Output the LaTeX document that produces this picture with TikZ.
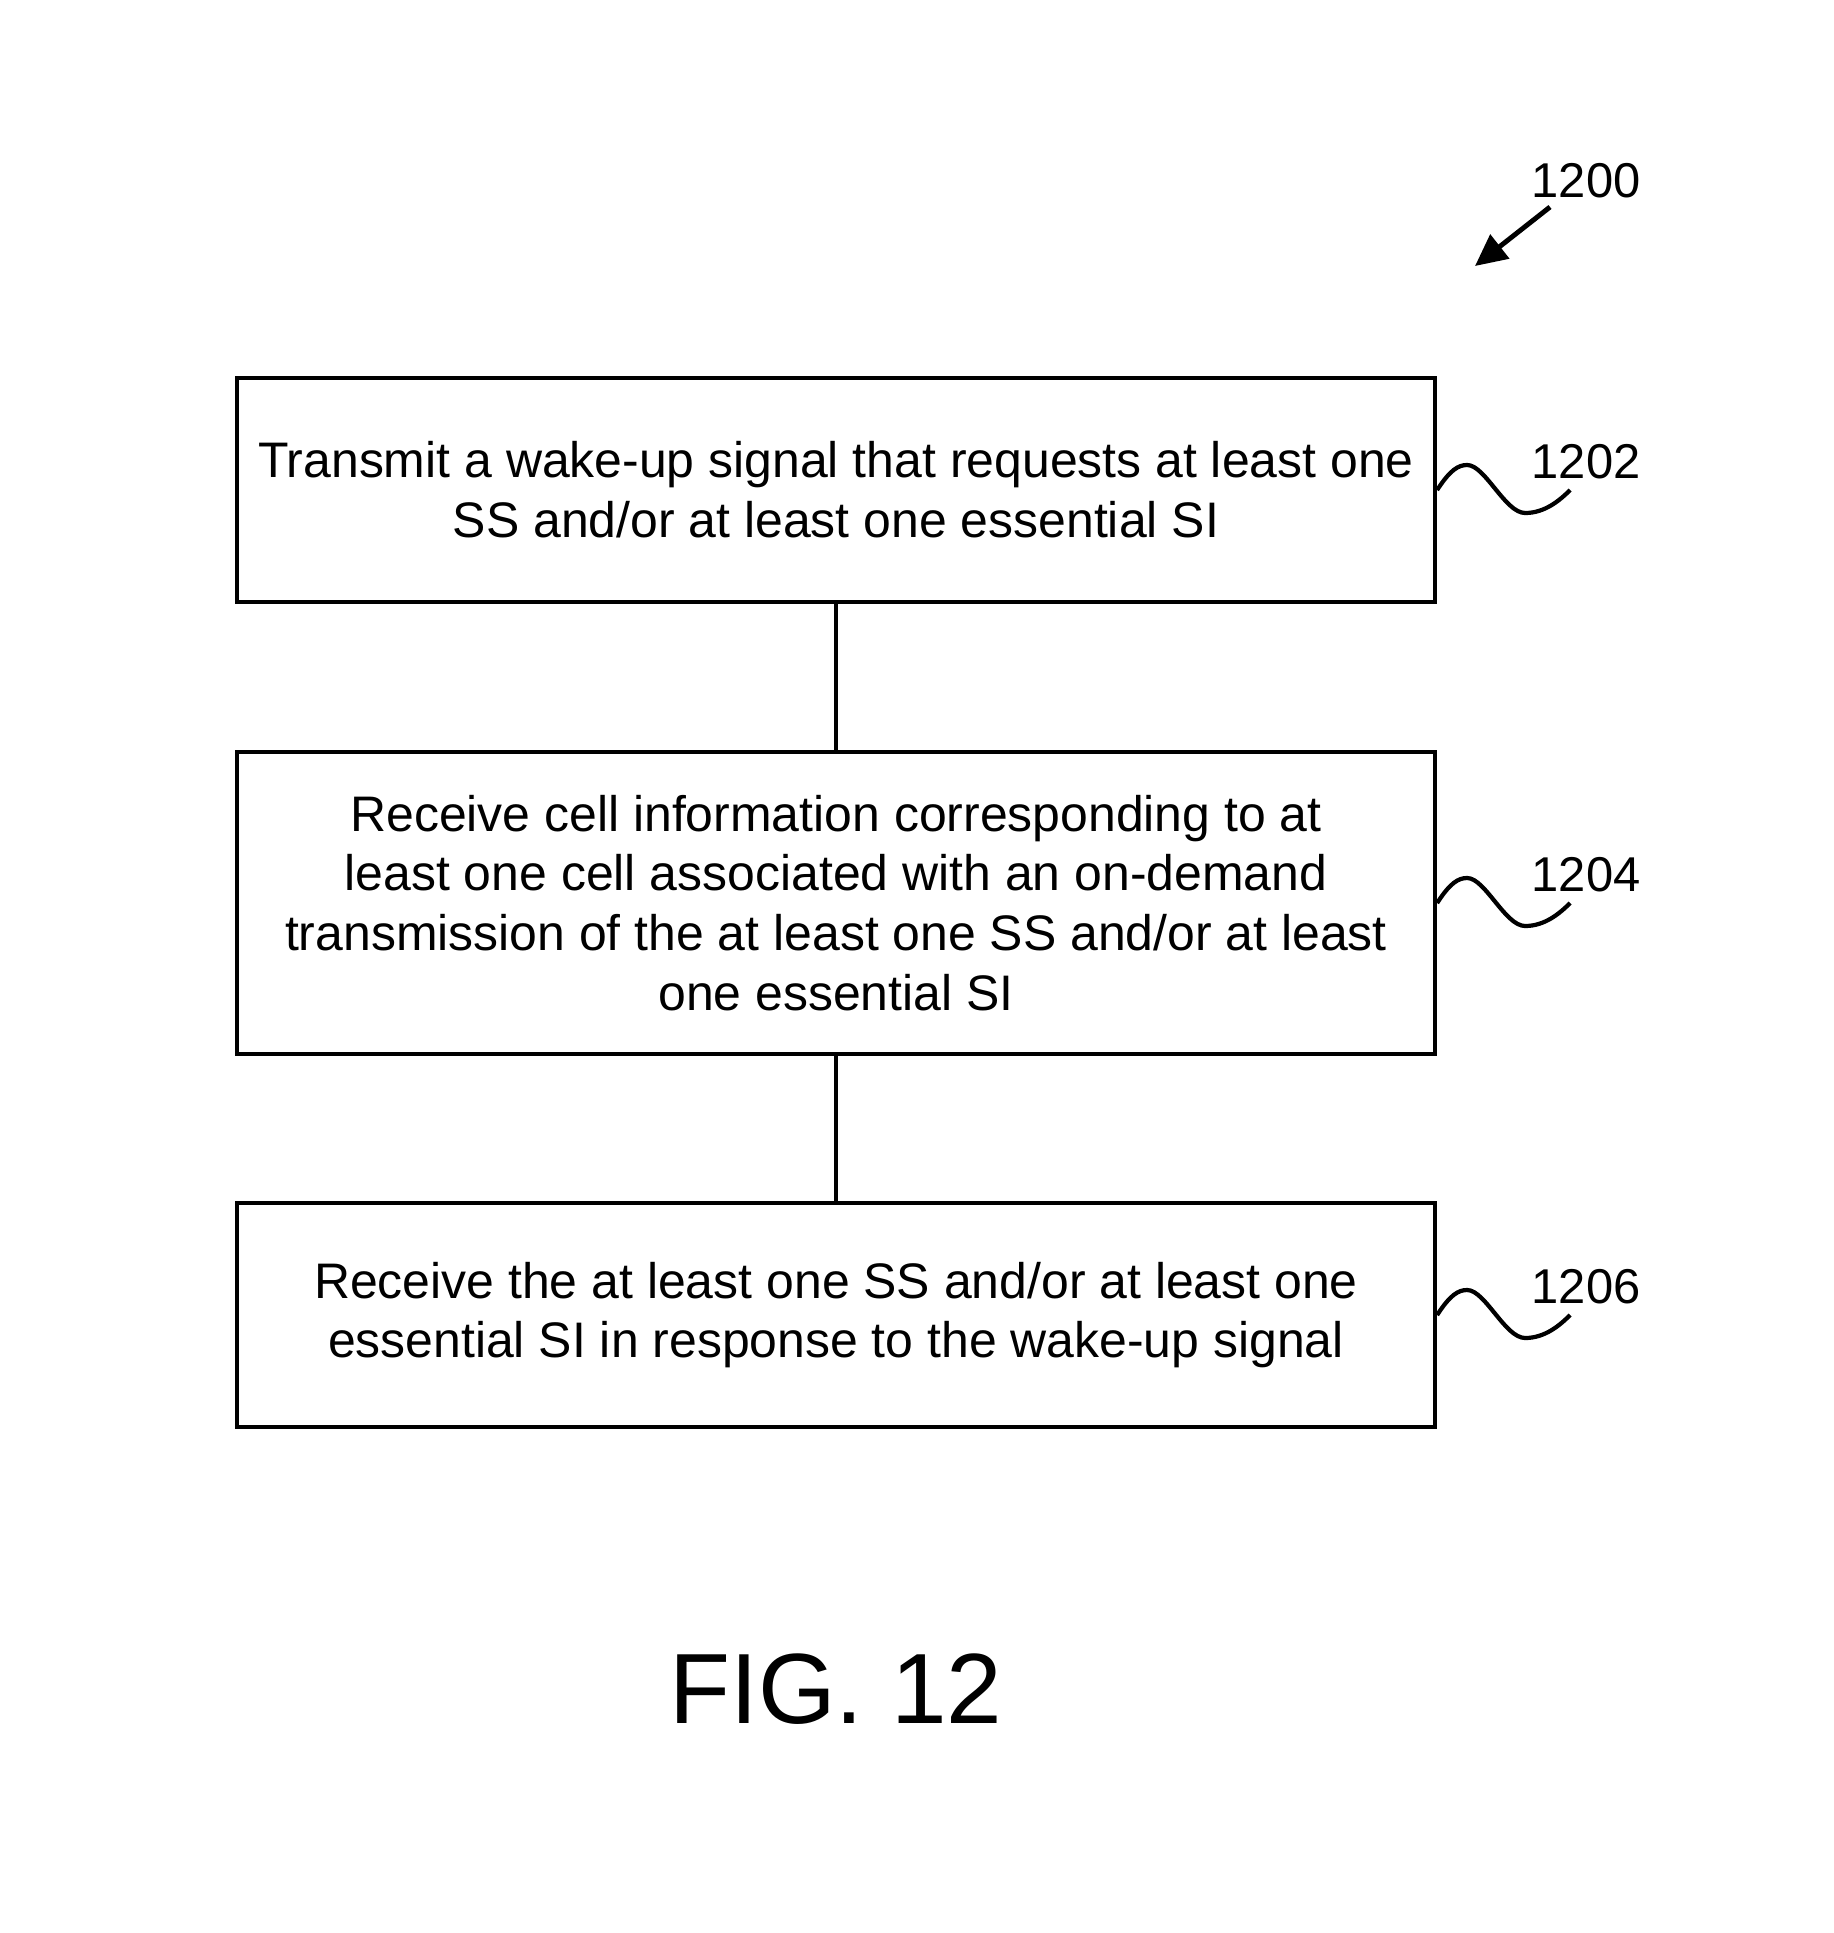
\documentclass[tikz,border=0pt]{standalone}
\usepackage{fontspec}
\setmainfont{Liberation Sans}
\usetikzlibrary{arrows.meta}
\begin{document}
\begin{tikzpicture}[x=0.01cm,y=-0.01cm,
  stepbox/.style={draw, line width=1.2pt, minimum width=1198*0.01cm, align=center, inner sep=0pt,
    font=\fontsize{14.2}{17}\selectfont},
  reflabel/.style={font=\fontsize{13.9}{17}\selectfont, inner sep=0pt},
  link/.style={line width=1.2pt},
  squig/.style={line width=1.2pt}]
\useasboundingbox (0,0) rectangle (1834,1933);
\node[stepbox, minimum height=224*0.01cm] (b1) at (836,490)
  {Transmit a wake-up signal that requests at least one\\SS and/or at least one essential SI};
\node[stepbox, minimum height=302*0.01cm] (b2) at (836,903)
  {Receive cell information corresponding to at\\least one cell associated with an on-demand\\transmission of the at least one SS and/or at least\\one essential SI};
\node[stepbox, minimum height=224*0.01cm] (b3) at (836,1315)
  {Receive the at least one SS and/or at least one\\essential SI in response to the wake-up signal};
\draw[link] (b1.south) -- (b2.north);
\draw[link] (b2.south) -- (b3.north);
\node[reflabel] (l1200) at (1586,181) {1200};
\coordinate (a1200) at (1475,266);
\draw[line width=1.4pt, -{Triangle[length=9pt,width=8.5pt]}] (1550,207) -- (a1200);
\foreach \b/\t in {b1/1202, b2/1204, b3/1206}{
  \node[reflabel] (l\t) at ([xshift=149*0.01cm, yshift=28*0.01cm]\b.east) {\t};
  \draw[squig] (\b.east) .. controls +(13,-20) and +(-9,0) .. ++(30,-25)
     .. controls +(18,0) and +(-20,0) .. ++(58,48)
     .. controls +(20,0) and +(-10,10) .. ++(45,-23);
}
\node[font=\fontsize{28.4}{34}\selectfont, inner sep=0pt] (fig) at (836,1689) {FIG. 12};
\end{tikzpicture}
\end{document}
